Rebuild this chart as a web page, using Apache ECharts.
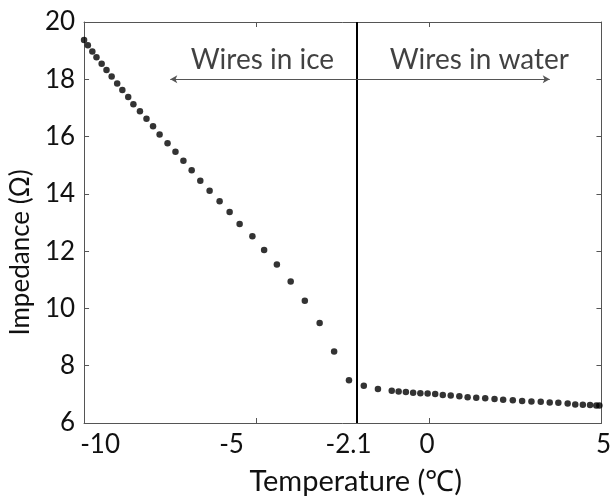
<!DOCTYPE html>
<html>
<head>
<meta charset="utf-8">
<script src="https://cdn.jsdelivr.net/npm/echarts@6/dist/echarts.min.js"></script>
<style>
  html, body { margin: 0; padding: 0; background: #fff; }
  #chart { width: 614px; height: 501px; }
</style>
</head>
<body>
<div id="chart"></div>
<script>
// Impedance of the wire pair while the sample warms from ice to water
const iceTemp = [-10.0, -9.89, -9.76, -9.64, -9.49, -9.35, -9.2, -9.04, -8.89, -8.72, -8.57, -8.38,
  -8.19, -8.0, -7.81, -7.58, -7.35, -7.12, -6.88, -6.63, -6.36, -6.07, -5.78, -5.49, -5.12, -4.78,
  -4.41, -4.01, -3.6, -3.17, -2.75, -2.32];
const iceImpedance = [19.37, 19.19, 18.97, 18.77, 18.54, 18.32, 18.10, 17.85, 17.63, 17.38, 17.13, 16.88,
  16.62, 16.36, 16.07, 15.77, 15.47, 15.16, 14.82, 14.46, 14.11, 13.74, 13.37, 12.95, 12.52, 12.04,
  11.53, 10.94, 10.27, 9.49, 8.50, 7.49];

const waterTemp = [-1.89, -1.48, -1.08, -0.88, -0.67, -0.46, -0.25, -0.04, 0.18, 0.4, 0.63, 0.88,
  1.12, 1.37, 1.63, 1.9, 2.15, 2.43, 2.7, 2.97, 3.24, 3.5, 3.75, 4.02, 4.24, 4.46, 4.67, 4.85, 4.94];
const waterImpedance = [7.30, 7.19, 7.13, 7.10, 7.08, 7.06, 7.04, 7.03, 7.01, 6.98, 6.96, 6.93,
  6.90, 6.88, 6.86, 6.84, 6.81, 6.79, 6.77, 6.75, 6.74, 6.72, 6.71, 6.68, 6.65, 6.64, 6.63, 6.61, 6.61];

// Phase change temperature and the region arrows
const meltTemp = -2.1;
const arrowLevel = 18;
const iceArrowEnd = -7.5;
const waterArrowEnd = 3.5;
const regionNames = ['Wires in ice', 'Wires in water'];
const regionTextTemp = [-4.83, 1.46];
const regionTextLevel = 18.69;

// Axis ticks and labels
const xTickValues = [-10, -5, -2.1, 0, 5];
const xTickLabels = ['-10', '-5', '-2.1', '0', '5'];
const yMin = 6, yMax = 20, yStep = 2;
const xMin = -10, xMax = 5;

// Horizontal nudge (px) applied to each x tick label
const xLabelNudge = [16, -25, -8, -2, 2];

const FONT = 'Lato';
const TICK_SIZE = 26;
const rich = {};
xLabelNudge.forEach(function (d, i) {
  rich['s' + i] = {
    fontFamily: FONT, fontSize: TICK_SIZE, color: '#111',
    padding: d >= 0 ? [0, 0, 0, 2 * d] : [0, -2 * d, 0, 0]
  };
});

function pairs(xs, ys) { return xs.map(function (x, i) { return [x, ys[i]]; }); }

const frame = { show: true, onZero: false, lineStyle: { color: '#555', width: 1 } };
const tick = { show: true, inside: true, length: 5, lineStyle: { color: '#555', width: 1 } };

const chart = echarts.init(document.getElementById('chart'), null, { renderer: 'canvas' });
chart.setOption({
  animation: false,
  backgroundColor: '#fff',
  grid: { left: 82, right: 7, top: 22, bottom: 66, containLabel: false },
  xAxis: [{
    type: 'value', min: xMin, max: xMax, position: 'bottom',
    name: 'Temperature (\u2103)', nameLocation: 'middle', nameGap: 44,
    nameTextStyle: { fontFamily: FONT, fontSize: 29, color: '#111', padding: [0, 0, 0, 26] },
    axisLine: frame,
    axisTick: Object.assign({}, tick, { customValues: xTickValues }),
    axisLabel: {
      customValues: xTickValues, margin: 9,
      fontFamily: FONT, fontSize: TICK_SIZE, color: '#111',
      formatter: function (v) {
        for (let i = 0; i < xTickValues.length; i++) {
          if (Math.abs(v - xTickValues[i]) < 1e-6) return '{s' + i + '|' + xTickLabels[i] + '}';
        }
        return '';
      },
      rich: rich
    },
    splitLine: { show: false }
  }, {
    type: 'value', min: xMin, max: xMax, position: 'top',
    axisLine: frame,
    axisTick: Object.assign({}, tick, { customValues: [-5, 0] }),
    axisLabel: { show: false }, splitLine: { show: false }
  }],
  yAxis: [{
    type: 'value', min: yMin, max: yMax, interval: yStep, position: 'left',
    name: 'Impedance (\u03A9)', nameLocation: 'middle', nameGap: 46,
    nameTextStyle: { fontFamily: FONT, fontSize: 26, color: '#111', padding: [0, 60, 0, 0] },
    axisLine: frame, axisTick: tick,
    axisLabel: { margin: 9, fontFamily: FONT, fontSize: TICK_SIZE, color: '#111' },
    splitLine: { show: false }
  }, {
    type: 'value', min: yMin, max: yMax, interval: yStep, position: 'right',
    axisLine: frame, axisTick: tick,
    axisLabel: { show: false }, splitLine: { show: false }
  }],
  series: [{
    type: 'scatter', name: 'ice',
    data: pairs(iceTemp, iceImpedance),
    symbol: 'circle', symbolSize: 6.5,
    itemStyle: { color: '#000' },
    markLine: {
      silent: true, animation: false,
      symbol: ['none', 'none'],
      label: { show: false },
      lineStyle: { color: '#000', width: 2, type: 'solid' },
      data: [{ xAxis: meltTemp }]
    }
  }, {
    type: 'scatter', name: 'water',
    data: pairs(waterTemp, waterImpedance),
    symbol: 'circle', symbolSize: 6.5,
    itemStyle: { color: '#000' },
    markLine: {
      silent: true, animation: false,
      symbol: ['none', 'arrow'], symbolSize: [6, 7],
      label: { show: false },
      lineStyle: { color: '#555', width: 1, type: 'solid' },
      data: [
        [{ coord: [meltTemp, arrowLevel] }, { coord: [iceArrowEnd, arrowLevel] }],
        [{ coord: [meltTemp, arrowLevel] }, { coord: [waterArrowEnd, arrowLevel] }]
      ]
    }
  }, {
    type: 'scatter', name: 'regions',
    silent: true, symbolSize: 0,
    data: regionNames.map(function (n, i) { return { value: [regionTextTemp[i], regionTextLevel], name: n }; }),
    label: {
      show: true, position: 'inside',
      formatter: function (p) { return p.name; },
      fontFamily: FONT, fontSize: 28, color: '#111'
    }
  }]
});
</script>
</body>
</html>
